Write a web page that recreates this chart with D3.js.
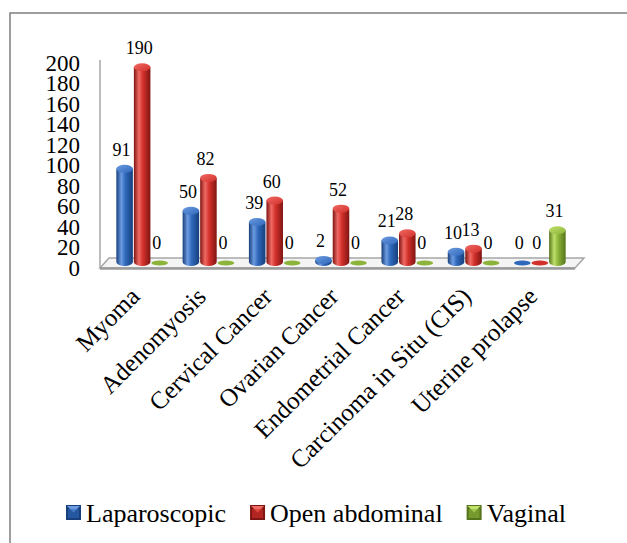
<!DOCTYPE html>
<html><head><meta charset="utf-8">
<script src="https://cdn.jsdelivr.net/npm/d3@7/dist/d3.min.js"></script>
<style>body{margin:0;background:#fff}svg{display:block}</style>
</head><body><svg id="c" width="627" height="543"></svg>
<script>
const categories = ["Myoma","Adenomyosis","Cervical Cancer","Ovarian Cancer","Endometrial Cancer","Carcinoma in Situ (CIS)","Uterine prolapse"];
const seriesNames = ["Laparoscopic","Open abdominal","Vaginal"];
const laparoscopic = [91,50,39,2,21,10,0];
const openAbdominal = [190,82,60,52,28,13,0];
const vaginal = [0,0,0,0,0,0,31];
const yTicks = [0,20,40,60,80,100,120,140,160,180,200];

const FONT = "'Liberation Serif', 'Times New Roman', serif";
const seriesValues = [laparoscopic, openAbdominal, vaginal];
const colors = [
  {base:"#2f68bb", dark:"#173f7c", light:"#6c9be0", top:"#5b8bd3"},
  {base:"#d3302b", dark:"#7f1512", light:"#f06a64", top:"#e3524c"},
  {base:"#8cb43a", dark:"#56741b", light:"#bfe06a", top:"#a6cc52"}
];

const svg = d3.select("#c");
const defs = svg.append("defs");
colors.forEach((c,i)=>{
  const g = defs.append("linearGradient").attr("id","cyl"+i).attr("x1","0").attr("x2","1").attr("y1","0").attr("y2","0");
  g.append("stop").attr("offset","0").attr("stop-color",c.dark);
  g.append("stop").attr("offset","0.3").attr("stop-color",c.light);
  g.append("stop").attr("offset","0.55").attr("stop-color",c.base);
  g.append("stop").attr("offset","1").attr("stop-color",c.dark);
  const t = defs.append("linearGradient").attr("id","top"+i).attr("x1","0").attr("x2","1").attr("y1","0").attr("y2","1");
  t.append("stop").attr("offset","0").attr("stop-color",c.light);
  t.append("stop").attr("offset","1").attr("stop-color",c.base);
});

function txt(sel, size){ return sel.style("font-family",FONT).style("font-size",size+"px").attr("fill","#000"); }

// outer border (top and left visible)
svg.append("rect").attr("x",10).attr("y",13).attr("width",700).attr("height",600)
  .attr("fill","none").attr("stroke","#7f7f7f").attr("stroke-width",1.5);

const x = d3.scaleBand().domain(categories).range([109,573]).padding(0);
const xs = d3.scaleBand().domain(seriesNames).range([0,x.bandwidth()]).paddingOuter(0.39).paddingInner(0);
const y = d3.scaleLinear().domain([0,200]).range([262,57]);

// floor
const fl = 100, fr = 575, backDx = 9;
svg.append("path")
  .attr("d",`M${fl},268 L${fr},268 L${fr+backDx},258 L${fl+backDx},258 Z`)
  .attr("fill","#f4f4f4").attr("stroke","#a6a6a6").attr("stroke-width",1.5);
svg.append("line").attr("x1",fl).attr("x2",fr).attr("y1",268.5).attr("y2",268.5)
  .attr("stroke","#9a9a9a").attr("stroke-width",2.5);

// y axis line
svg.append("line").attr("x1",100).attr("x2",100).attr("y1",y(200)+3).attr("y2",268)
  .attr("stroke","#a6a6a6").attr("stroke-width",1.5);

// y tick labels
const yAxis = d3.axisLeft(y).tickValues(yTicks).tickSize(0).tickPadding(0);
const ya = svg.append("g").attr("transform","translate(80,6)").call(yAxis);
ya.attr("font-family",null).attr("font-size",null);
ya.select(".domain").remove();
txt(ya.selectAll("text"), 23);

// bars
const bw = xs.bandwidth();
const ry = 4;
categories.forEach((cat,ci)=>{
  seriesNames.forEach((s,si)=>{
    const v = seriesValues[si][ci];
    const cx = x(cat) + xs(s) + bw/2;
    const y0 = y(0), y1 = y(v);
    const g = svg.append("g");
    const hw = bw/2 - 0.5;
    if (v > 0) {
      g.append("path")
        .attr("d",`M${cx-hw},${y1} L${cx-hw},${y0} A${hw},${ry} 0 0 0 ${cx+hw},${y0} L${cx+hw},${y1} Z`)
        .attr("fill",`url(#cyl${si})`);
      g.append("ellipse").attr("cx",cx).attr("cy",y1).attr("rx",hw).attr("ry",ry)
        .attr("fill",`url(#top${si})`);
    } else {
      g.append("ellipse").attr("cx",cx).attr("cy",y0+1).attr("rx",hw).attr("ry",2.5)
        .attr("fill",colors[si].base);
    }
    txt(svg.append("text").attr("x",cx-3).attr("y",y1-13).attr("text-anchor","middle"),18).text(v);
  });
});

// x labels
categories.forEach(cat=>{
  const cx = x(cat) + x.bandwidth()/2;
  txt(svg.append("text").attr("text-anchor","end")
    .attr("transform",`translate(${cx-1},298) rotate(-45)`),25).text(cat);
});

// legend
let lx = 66;
seriesNames.forEach((s,i)=>{
  svg.append("rect").attr("x",lx).attr("y",505).attr("width",15).attr("height",15).attr("fill",colors[i].dark);
  svg.append("path").attr("d",`M${lx+1},506 L${lx+14},506 L${lx+7.5},512.5 Z`).attr("fill",colors[i].light);
  svg.append("rect").attr("x",lx+2).attr("y",509).attr("width",11).attr("height",9).attr("fill",colors[i].base).attr("opacity",0.6);
  const t = txt(svg.append("text").attr("x",lx+20).attr("y",522),26).text(s);
  lx += 20 + t.node().getComputedTextLength() + 24;
});
</script></body></html>
